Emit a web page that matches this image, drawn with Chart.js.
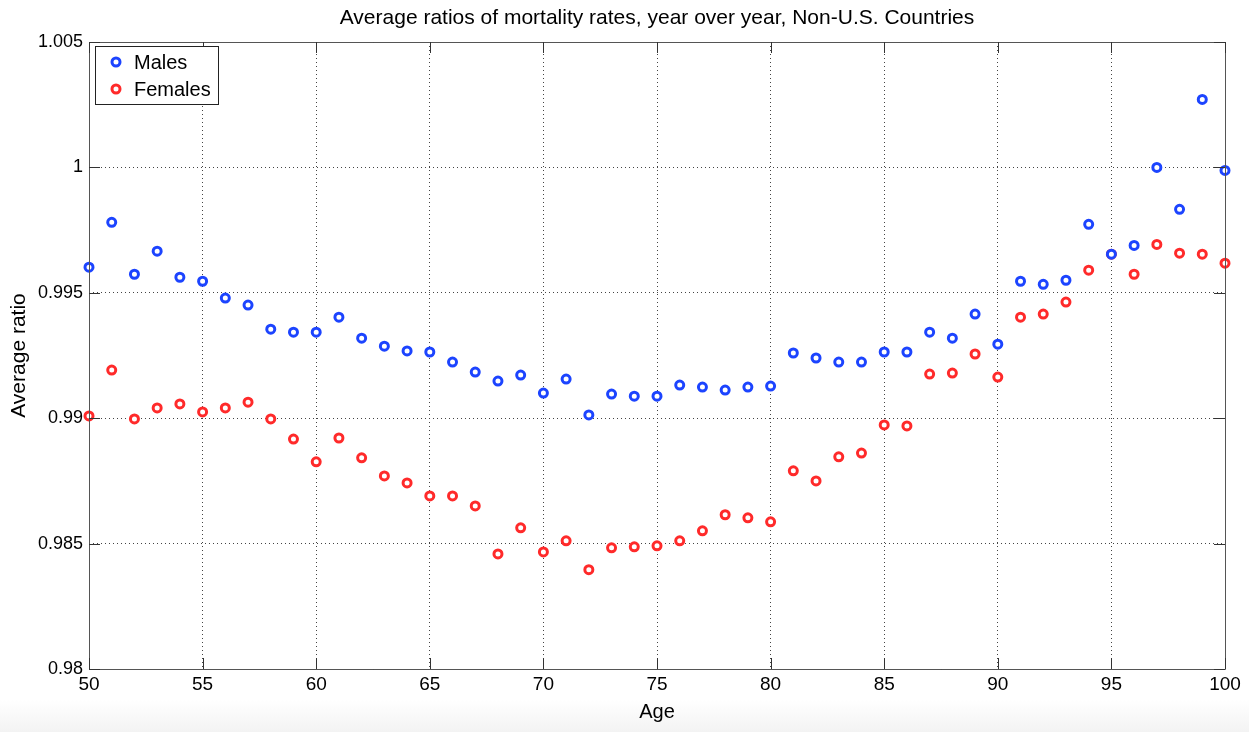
<!DOCTYPE html>
<html>
<head>
<meta charset="utf-8">
<script src="https://cdn.jsdelivr.net/npm/chart.js@4/dist/chart.umd.min.js"></script>
<style>
  html, body { margin: 0; padding: 0; }
  body { width: 1249px; height: 732px; background: linear-gradient(to bottom, #ffffff 0px, #ffffff 700px, #f3f3f3 732px); }
  #wrap { width: 1249px; height: 732px; position: relative; }
</style>
</head>
<body>
<div id="wrap"><canvas id="chart" width="1249" height="732"></canvas></div>
<script>
// Ages on the horizontal axis
const ages = [];
for (let a = 50; a <= 100; a++) ages.push(a);

// Average year-over-year mortality-rate ratios, ages 50..100
const males = [
  0.99602, 0.99781, 0.99574, 0.99666, 0.99562, 0.99546, 0.99479, 0.99451, 0.99355, 0.99343,
  0.99343, 0.99403, 0.99319, 0.99287, 0.99268, 0.99264, 0.99224, 0.99184, 0.99148, 0.99172,
  0.99100, 0.99156, 0.99013, 0.99096, 0.99088, 0.99088, 0.99132, 0.99124, 0.99112, 0.99124,
  0.99128, 0.99260, 0.99240, 0.99224, 0.99224, 0.99264, 0.99264, 0.99343, 0.99319, 0.99415,
  0.99295, 0.99546, 0.99534, 0.99550, 0.99773, 0.99654, 0.99689, 1.00000, 0.99833, 1.00271,
  0.99988
];
const females = [
  0.99009, 0.99192, 0.98997, 0.99041, 0.99057, 0.99025, 0.99041, 0.99064, 0.98997, 0.98917,
  0.98826, 0.98921, 0.98842, 0.98770, 0.98742, 0.98690, 0.98690, 0.98650, 0.98459, 0.98563,
  0.98467, 0.98511, 0.98396, 0.98483, 0.98487, 0.98491, 0.98511, 0.98551, 0.98615, 0.98603,
  0.98587, 0.98790, 0.98750, 0.98846, 0.98861, 0.98973, 0.98969, 0.99176, 0.99180, 0.99256,
  0.99164, 0.99403, 0.99415, 0.99463, 0.99590, 0.99654, 0.99574, 0.99693, 0.99658, 0.99654,
  0.99618
];

// Axis ticks
const xTicks = [50, 55, 60, 65, 70, 75, 80, 85, 90, 95, 100];
const yTicks = [0.98, 0.985, 0.99, 0.995, 1, 1.005];
const yTickLabels = ['0.98', '0.985', '0.99', '0.995', '1', '1.005'];

const BLUE = '#1c44ff';
const RED = '#ff2a2a';
const FONT = '"Liberation Sans", Arial, Helvetica, sans-serif';

const toPoints = (vals) => vals.map((v, i) => ({ x: ages[i], y: v }));

// Frame, inward tick marks and boxed legend
const framePlugin = {
  id: 'frame',
  afterDraw(chart) {
    const { ctx, chartArea: ca, scales } = chart;
    const tl = 11;
    ctx.save();
    ctx.strokeStyle = '#555555';
    ctx.lineWidth = 1;
    ctx.beginPath();
    ctx.rect(Math.round(ca.left) + 0.5, Math.round(ca.top) + 0.5,
             Math.round(ca.right - ca.left), Math.round(ca.bottom - ca.top));
    ctx.stroke();
    ctx.strokeStyle = '#333333';
    ctx.beginPath();
    yTicks.forEach(v => {
      const y = Math.round(scales.y.getPixelForValue(v)) + 0.5;
      ctx.moveTo(ca.left, y); ctx.lineTo(ca.left + tl, y);
      ctx.moveTo(ca.right, y); ctx.lineTo(ca.right - tl, y);
    });
    xTicks.forEach(v => {
      const x = Math.round(scales.x.getPixelForValue(v)) + 0.5;
      ctx.moveTo(x, ca.bottom); ctx.lineTo(x, ca.bottom - tl);
      ctx.moveTo(x, ca.top); ctx.lineTo(x, ca.top + tl);
    });
    ctx.stroke();

    // legend
    const lx = 95, ly = 46, lw = 123, lh = 58;
    ctx.fillStyle = '#ffffff';
    ctx.fillRect(lx, ly, lw, lh);
    ctx.strokeStyle = '#222222';
    ctx.strokeRect(lx + 0.5, ly + 0.5, lw, lh);
    chart.data.datasets.forEach((ds, i) => {
      const cy = 62 + i * 27;
      ctx.beginPath();
      ctx.arc(116, cy, 4, 0, Math.PI * 2);
      ctx.fillStyle = '#ffffff';
      ctx.fill();
      ctx.lineWidth = 3;
      ctx.strokeStyle = ds.borderColor;
      ctx.stroke();
      ctx.fillStyle = '#000000';
      ctx.font = '20px ' + FONT;
      ctx.textBaseline = 'middle';
      ctx.textAlign = 'left';
      ctx.fillText(ds.label, 134, cy + 1);
    });
    ctx.restore();
  }
};

const pointStyle = (color) => ({
  showLine: false,
  borderColor: color,
  backgroundColor: '#ffffff',
  pointBackgroundColor: '#ffffff',
  pointBorderColor: color,
  pointRadius: 4,
  pointBorderWidth: 3,
  pointHoverRadius: 4,
  clip: false
});

new Chart(document.getElementById('chart'), {
  type: 'scatter',
  data: {
    datasets: [
      Object.assign({ label: 'Males', data: toPoints(males) }, pointStyle(BLUE)),
      Object.assign({ label: 'Females', data: toPoints(females) }, pointStyle(RED))
    ]
  },
  plugins: [framePlugin],
  options: {
    responsive: false,
    animation: false,
    events: [],
    layout: { padding: { left: 0, right: 24, top: 0, bottom: 0 } },
    plugins: {
      legend: { display: false },
      tooltip: { enabled: false },
      title: {
        display: true,
        fullSize: false,
        text: 'Average ratios of mortality rates, year over year, Non-U.S. Countries',
        color: '#000000',
        font: { family: FONT, size: 21, weight: 'normal', lineHeight: 1.2 },
        padding: { top: 5.4, bottom: 11.4 }
      }
    },
    scales: {
      x: {
        type: 'linear',
        min: 50,
        max: 100,
        afterBuildTicks(scale) { scale.ticks = xTicks.map(v => ({ value: v })); },
        afterFit(scale) { scale.height = 63; },
        ticks: {
          color: '#000000',
          font: { family: FONT, size: 19 },
          padding: 4,
          maxRotation: 0,
          callback: (v) => String(v)
        },
        grid: { color: '#444444', lineWidth: 1, drawTicks: false },
        border: { display: false, dash: [1, 3] },
        title: {
          display: true,
          text: 'Age',
          color: '#000000',
          font: { family: FONT, size: 20, lineHeight: 1.2 },
          padding: 8
        }
      },
      y: {
        type: 'linear',
        min: 0.98,
        max: 1.005,
        afterBuildTicks(scale) { scale.ticks = yTicks.map(v => ({ value: v })); },
        afterFit(scale) { scale.width = 89; },
        ticks: {
          color: '#000000',
          font: { family: FONT, size: 18 },
          padding: 6,
          callback: (v) => {
            const i = yTicks.findIndex(t => Math.abs(t - v) < 1e-9);
            return i >= 0 ? yTickLabels[i] : '';
          }
        },
        grid: { color: '#444444', lineWidth: 1, drawTicks: false },
        border: { display: false, dash: [1, 3] },
        title: {
          display: true,
          text: 'Average ratio',
          color: '#000000',
          font: { family: FONT, size: 21, lineHeight: 1.2 },
          padding: 6.4
        }
      }
    }
  }
});
</script>
</body>
</html>
